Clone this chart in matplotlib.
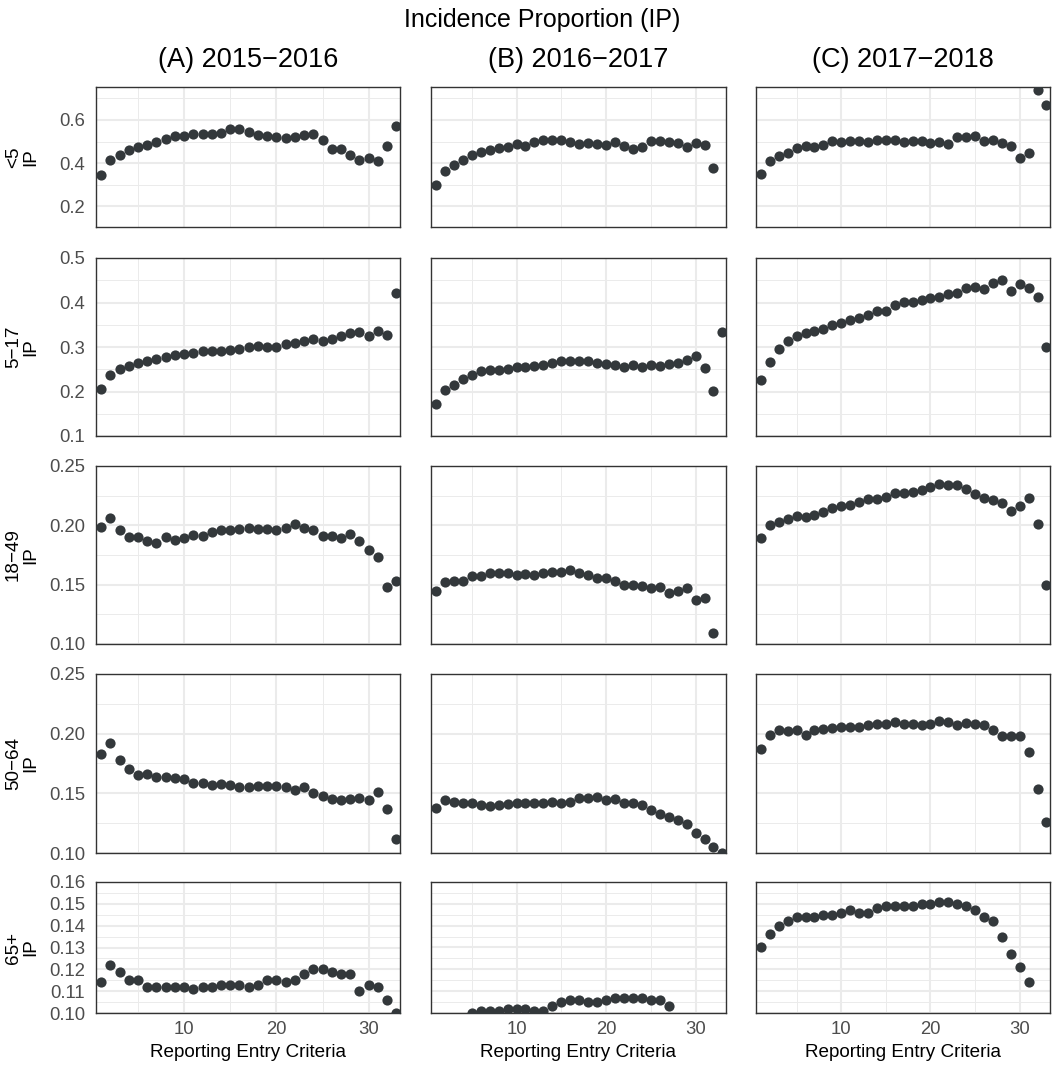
import numpy as np
import matplotlib
matplotlib.use("Agg")
import matplotlib.pyplot as plt
from matplotlib.ticker import MultipleLocator

plt.rcParams['font.family'] = ['Liberation Sans', 'DejaVu Sans']

nan = np.nan
criteria = np.arange(1, 34)

seasons = ["(A) 2015\u22122016", "(B) 2016\u22122017", "(C) 2017\u22122018"]
age_groups = ["<5", "5\u221217", "18\u221249", "50\u221264", "65+"]

# incidence proportion by reporting entry criteria, one list per age group / season
u5_1516 = [0.347, 0.415, 0.439, 0.462, 0.476, 0.485, 0.497, 0.511, 0.525, 0.525, 0.534,
           0.536, 0.536, 0.539, 0.559, 0.557, 0.542, 0.531, 0.526, 0.520, 0.517, 0.520,
           0.531, 0.536, 0.508, 0.467, 0.467, 0.438, 0.415, 0.425, 0.411, 0.480, 0.574]
u5_1617 = [0.300, 0.362, 0.390, 0.413, 0.437, 0.453, 0.462, 0.470, 0.476, 0.488, 0.479,
           0.497, 0.506, 0.506, 0.506, 0.497, 0.488, 0.494, 0.487, 0.482, 0.497, 0.480,
           0.465, 0.473, 0.503, 0.503, 0.499, 0.491, 0.473, 0.493, 0.482, 0.378, nan]
u5_1718 = [0.349, 0.408, 0.433, 0.448, 0.468, 0.480, 0.476, 0.483, 0.502, 0.499, 0.502,
           0.502, 0.499, 0.508, 0.508, 0.505, 0.499, 0.502, 0.502, 0.494, 0.499, 0.490,
           0.523, 0.523, 0.526, 0.502, 0.508, 0.493, 0.479, 0.422, 0.448, 0.736, 0.669]

a517_1516 = [0.205, 0.237, 0.250, 0.258, 0.264, 0.269, 0.273, 0.278, 0.282, 0.285, 0.287,
             0.290, 0.292, 0.291, 0.294, 0.295, 0.300, 0.302, 0.301, 0.301, 0.306, 0.308,
             0.313, 0.318, 0.313, 0.318, 0.325, 0.331, 0.333, 0.324, 0.335, 0.327, 0.421]
a517_1617 = [0.173, 0.203, 0.214, 0.227, 0.237, 0.245, 0.248, 0.248, 0.251, 0.254, 0.255,
             0.258, 0.260, 0.263, 0.268, 0.269, 0.268, 0.268, 0.265, 0.262, 0.259, 0.256,
             0.259, 0.256, 0.260, 0.258, 0.262, 0.265, 0.270, 0.280, 0.252, 0.202, 0.334]
a517_1718 = [0.226, 0.267, 0.295, 0.313, 0.325, 0.331, 0.336, 0.341, 0.349, 0.355, 0.361,
             0.366, 0.372, 0.382, 0.382, 0.394, 0.401, 0.402, 0.406, 0.409, 0.413, 0.419,
             0.422, 0.432, 0.434, 0.431, 0.444, 0.451, 0.425, 0.442, 0.433, 0.412, 0.300]

a1849_1516 = [0.199, 0.206, 0.196, 0.190, 0.190, 0.187, 0.185, 0.190, 0.188, 0.189, 0.192,
              0.191, 0.194, 0.196, 0.196, 0.197, 0.198, 0.197, 0.197, 0.196, 0.198, 0.201,
              0.198, 0.196, 0.191, 0.191, 0.189, 0.193, 0.187, 0.179, 0.173, 0.148, 0.153]
a1849_1617 = [0.145, 0.152, 0.153, 0.153, 0.157, 0.157, 0.160, 0.160, 0.160, 0.158, 0.159,
              0.158, 0.160, 0.161, 0.161, 0.162, 0.160, 0.158, 0.156, 0.156, 0.153, 0.150,
              0.150, 0.149, 0.147, 0.148, 0.143, 0.145, 0.147, 0.137, 0.139, 0.109, nan]
a1849_1718 = [0.189, 0.200, 0.203, 0.205, 0.208, 0.207, 0.209, 0.211, 0.215, 0.216, 0.217,
              0.220, 0.222, 0.222, 0.224, 0.227, 0.227, 0.228, 0.230, 0.232, 0.235, 0.234,
              0.234, 0.231, 0.226, 0.223, 0.221, 0.219, 0.212, 0.216, 0.223, 0.201, 0.150]

a5064_1516 = [0.183, 0.192, 0.178, 0.170, 0.165, 0.166, 0.164, 0.164, 0.163, 0.162, 0.159,
              0.159, 0.157, 0.158, 0.157, 0.155, 0.155, 0.156, 0.156, 0.156, 0.155, 0.153,
              0.155, 0.150, 0.148, 0.145, 0.144, 0.145, 0.146, 0.144, 0.151, 0.137, 0.112]
a5064_1617 = [0.138, 0.144, 0.143, 0.142, 0.142, 0.140, 0.139, 0.140, 0.141, 0.142, 0.142,
              0.142, 0.142, 0.143, 0.142, 0.143, 0.146, 0.146, 0.147, 0.144, 0.145, 0.142,
              0.142, 0.140, 0.136, 0.133, 0.130, 0.128, 0.124, 0.117, 0.112, 0.105, 0.100]
a5064_1718 = [0.187, 0.199, 0.203, 0.202, 0.203, 0.199, 0.203, 0.204, 0.205, 0.206, 0.206,
              0.206, 0.207, 0.208, 0.208, 0.210, 0.208, 0.208, 0.207, 0.208, 0.211, 0.210,
              0.207, 0.209, 0.208, 0.207, 0.203, 0.198, 0.198, 0.198, 0.185, 0.154, 0.126]

a65_1516 = [0.114, 0.122, 0.119, 0.115, 0.115, 0.112, 0.112, 0.112, 0.112, 0.112, 0.111,
            0.112, 0.112, 0.113, 0.113, 0.113, 0.112, 0.113, 0.115, 0.115, 0.114, 0.115,
            0.118, 0.120, 0.120, 0.119, 0.118, 0.118, 0.110, 0.113, 0.112, 0.106, 0.100]
a65_1617 = [nan, nan, nan, nan, 0.100, 0.101, 0.101, 0.101, 0.102, 0.102, 0.102,
            0.101, 0.101, 0.103, 0.105, 0.106, 0.106, 0.105, 0.105, 0.106, 0.107, 0.107,
            0.107, 0.107, 0.106, 0.106, 0.103, nan, nan, nan, nan, nan, nan]
a65_1718 = [0.130, 0.136, 0.140, 0.142, 0.144, 0.144, 0.144, 0.145, 0.145, 0.146, 0.147,
            0.146, 0.146, 0.148, 0.149, 0.149, 0.149, 0.149, 0.150, 0.150, 0.151, 0.151,
            0.150, 0.149, 0.147, 0.144, 0.142, 0.135, 0.127, 0.121, 0.114, nan, nan]

grid_data = [
    [u5_1516, u5_1617, u5_1718],
    [a517_1516, a517_1617, a517_1718],
    [a1849_1516, a1849_1617, a1849_1718],
    [a5064_1516, a5064_1617, a5064_1718],
    [a65_1516, a65_1617, a65_1718],
]

# per-row y limits, major tick spacing and label format
row_ylim = [(0.105, 0.752), (0.1, 0.5), (0.1, 0.25), (0.1, 0.25), (0.1, 0.16)]
row_major = [0.2, 0.1, 0.05, 0.05, 0.01]
row_fmt = ["{:.1f}", "{:.1f}", "{:.2f}", "{:.2f}", "{:.2f}"]

W, H = 1052, 1069
fig = plt.figure(figsize=(W / 100, H / 100), dpi=100)

col_px = [(96, 400), (431, 726), (756, 1050)]
row_px = [(87, 227), (258, 436), (466, 644), (674, 853), (882, 1013)]

point_col = "#33383b"
grid_col = "#ebebeb"

for r, (top, bot) in enumerate(row_px):
    for c, (left, right) in enumerate(col_px):
        ax = fig.add_axes([left / W, 1 - bot / H, (right - left) / W, (bot - top) / H])
        ax.scatter(criteria, grid_data[r][c], s=54, color=point_col, linewidths=0, zorder=3)
        ax.set_xlim(0.45, 33.4)
        ax.set_ylim(*row_ylim[r])

        ax.xaxis.set_major_locator(MultipleLocator(10))
        ax.xaxis.set_minor_locator(MultipleLocator(5))
        ax.yaxis.set_major_locator(MultipleLocator(row_major[r]))
        ax.yaxis.set_minor_locator(MultipleLocator(row_major[r] / 2))
        ax.grid(which="major", color=grid_col, linewidth=1.5, zorder=0)
        ax.grid(which="minor", color=grid_col, linewidth=0.7, zorder=0)
        ax.set_axisbelow(True)

        ax.tick_params(which="both", length=0, labelsize=13.3, labelcolor="#4d4d4d")
        ax.tick_params(axis="y", pad=8)
        ax.tick_params(axis="x", pad=6)

        if c == 0:
            ticks = ax.get_yticks()
            lo, hi = row_ylim[r]
            ticks = [t for t in ticks if lo - 1e-9 <= t <= hi + 1e-9]
            ax.set_yticks(ticks)
            ax.set_yticklabels([row_fmt[r].format(t) for t in ticks])
        else:
            ax.set_yticklabels([])
        if r == len(row_px) - 1:
            ax.set_xticks([10, 20, 30])
            ax.set_xlabel("Reporting Entry Criteria", fontsize=13.6, labelpad=4)
        else:
            ax.set_xticklabels([])

        for sp in ax.spines.values():
            sp.set_color("#333333")
            sp.set_linewidth(1.0)

    fig.text(22 / W, 1 - (top + bot) / 2 / H, age_groups[r] + "\nIP", rotation=90,
             ha="center", va="center", multialignment="center", fontsize=13.6,
             linespacing=1.0)

for c, (left, right) in enumerate(col_px):
    fig.text((left + right) / 2 / W, 1 - 60 / H, seasons[c], ha="center", va="center",
             fontsize=19.5)

fig.text(542 / W, 1 - 20 / H, "Incidence Proportion (IP)", ha="center", va="center",
         fontsize=18)

fig.savefig("out.png", dpi=100, facecolor="white")
